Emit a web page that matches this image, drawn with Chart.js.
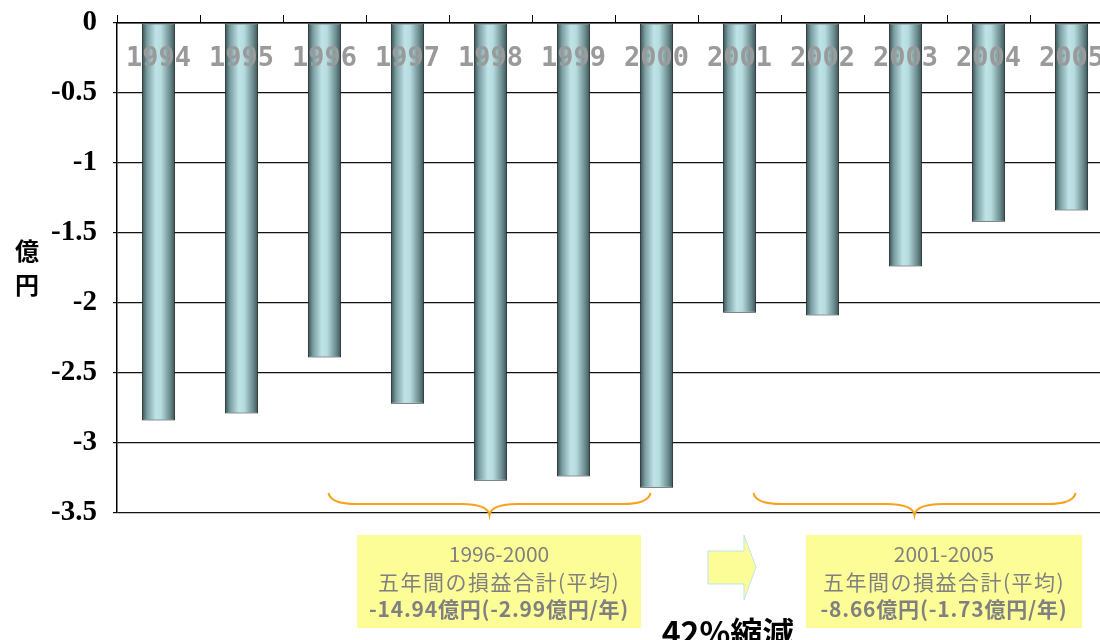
<!DOCTYPE html>
<html>
<head>
<meta charset="utf-8">
<script src="https://cdn.jsdelivr.net/npm/chart.js@4/dist/chart.umd.min.js"></script>
<style>
  html, body { margin: 0; padding: 0; background: #fff; overflow: hidden; }
  #wrap { position: relative; width: 1113px; height: 640px; }
</style>
</head>
<body>
<div id="wrap"><canvas id="myChart"></canvas></div>
<script>
// 年度別の損益 (億円)
const years = ['1994', '1995', '1996', '1997', '1998', '1999', '2000', '2001', '2002', '2003', '2004', '2005'];
const profit = [-2.84, -2.79, -2.39, -2.72, -3.27, -3.24, -3.32, -2.07, -2.09, -1.74, -1.42, -1.34];
const yTicks = [0, -0.5, -1, -1.5, -2, -2.5, -3, -3.5];
// 比較する二つの期間 (years の添字)
const periodA = [2, 6];
const periodB = [7, 11];

const sum = (a, b) => profit.slice(a, b + 1).reduce((s, v) => s + v, 0);
const sumA = sum(periodA[0], periodA[1]);
const sumB = sum(periodB[0], periodB[1]);
const cut = Math.round((1 - sumB / sumA) * 100);

function boxLines(p, total) {
  const n = p[1] - p[0] + 1;
  return [
    years[p[0]] + '-' + years[p[1]],
    '五年間の損益合計(平均)',
    total.toFixed(2) + '億円(' + (total / n).toFixed(2) + '億円/年)'
  ];
}

function barGradient(c) {
  const chart = c.chart;
  const x = chart.scales.x;
  if (!x || c.dataIndex == null) return '#a8cfd2';
  const cx = x.getPixelForValue(c.dataIndex);
  const w = x.width / years.length * 0.4;
  if (!isFinite(cx) || !isFinite(w) || w <= 0) return '#a8cfd2';
  const g = chart.ctx.createLinearGradient(cx - w / 2, 0, cx + w / 2, 0);
  g.addColorStop(0, '#364d4f');
  g.addColorStop(0.15, '#789c9f');
  g.addColorStop(0.42, '#bfe3e6');
  g.addColorStop(0.58, '#b6dcdf');
  g.addColorStop(0.85, '#6b8b8e');
  g.addColorStop(1, '#3a5254');
  return g;
}

function brace(ctx, x1, x2, yTop, yMid, yTip) {
  const xm = (x1 + x2) / 2;
  const r = 14;
  ctx.beginPath();
  ctx.moveTo(x1, yTop);
  ctx.quadraticCurveTo(x1 + 2, yMid, x1 + r * 2, yMid);
  ctx.lineTo(xm - r * 2, yMid);
  ctx.quadraticCurveTo(xm - 2, yMid, xm, yTip);
  ctx.quadraticCurveTo(xm + 2, yMid, xm + r * 2, yMid);
  ctx.lineTo(x2 - r * 2, yMid);
  ctx.quadraticCurveTo(x2 - 2, yMid, x2, yTop);
  ctx.stroke();
}

function textBox(ctx, cx, top, w, h, lines) {
  ctx.fillStyle = '#fdfd98';
  ctx.fillRect(cx - w / 2, top, w, h);
  ctx.fillStyle = '#808080';
  ctx.textAlign = 'center';
  ctx.textBaseline = 'middle';
  ctx.font = '21px "Noto Sans CJK JP", sans-serif';
  ctx.letterSpacing = '0px';
  ctx.fillText(lines[0], cx, top + 19);
  ctx.letterSpacing = '1.5px';
  ctx.fillText(lines[1], cx, top + 47);
  ctx.font = 'bold 21px "Noto Sans CJK JP", sans-serif';
  ctx.letterSpacing = '0.8px';
  ctx.fillText(lines[2], cx, top + 74);
  ctx.letterSpacing = '0px';
}

const overlay = {
  id: 'overlay',
  afterDatasetsDraw(chart) {
    const ctx = chart.ctx;
    const x = chart.scales.x;
    const area = chart.chartArea;
    ctx.save();
    // 年度ラベル (棒の上に重ねる)
    ctx.font = 'bold 27px "DejaVu Sans Mono", monospace';
    ctx.fillStyle = '#9a9a9a';
    ctx.textAlign = 'center';
    ctx.textBaseline = 'middle';
    years.forEach((y, i) => ctx.fillText(y, x.getPixelForValue(i), area.top + 36));
    ctx.restore();
  },
  afterDraw(chart) {
    const ctx = chart.ctx;
    const x = chart.scales.x;
    const area = chart.chartArea;
    ctx.save();

    // 縦書きの単位
    ctx.font = 'bold 24px "Noto Sans CJK JP", sans-serif';
    ctx.fillStyle = '#000';
    ctx.textAlign = 'center';
    ctx.textBaseline = 'middle';
    ctx.fillText('億', 27, 251);
    ctx.fillText('円', 27, 285);

    // 期間を示す中括弧
    ctx.strokeStyle = '#f7a21d';
    ctx.lineWidth = 2;
    const ax1 = x.getPixelForValue(periodA[0]) + 4, ax2 = x.getPixelForValue(periodA[1]) - 6;
    const bx1 = x.getPixelForValue(periodB[0]) + 14, bx2 = x.getPixelForValue(periodB[1]) + 4;
    brace(ctx, ax1, ax2, area.bottom - 20, area.bottom - 9, area.bottom + 2);
    brace(ctx, bx1, bx2, area.bottom - 20, area.bottom - 9, area.bottom + 2);

    // 集計ボックス
    textBox(ctx, 499, 535, 284, 93, boxLines(periodA, sumA));
    textBox(ctx, 944, 535, 276, 93, boxLines(periodB, sumB));

    // 矢印
    ctx.beginPath();
    ctx.moveTo(708, 551);
    ctx.lineTo(744, 551);
    ctx.lineTo(744, 535);
    ctx.lineTo(756, 567);
    ctx.lineTo(744, 600);
    ctx.lineTo(744, 584);
    ctx.lineTo(708, 584);
    ctx.closePath();
    ctx.fillStyle = '#fdfd98';
    ctx.fill();
    ctx.strokeStyle = '#bfe3ee';
    ctx.lineWidth = 1;
    ctx.stroke();

    ctx.font = 'bold 32px "Noto Sans CJK JP", sans-serif';
    ctx.fillStyle = '#000';
    ctx.textAlign = 'center';
    ctx.textBaseline = 'alphabetic';
    ctx.fillText(cut + '%縮減', 728, 645);
    ctx.restore();
  }
};

const ctx = document.getElementById('myChart');

new Chart(ctx, {
  type: 'bar',
  data: {
    labels: years,
    datasets: [{
      label: '損益',
      data: profit,
      backgroundColor: barGradient,
      borderColor: '#1e2a2b',
      borderWidth: 1,
      borderSkipped: false,
      categoryPercentage: 1,
      barPercentage: 0.4
    }]
  },
  options: {
    responsive: true,
    maintainAspectRatio: false,
    animation: false,
    layout: { padding: { top: 0, right: 0, bottom: 127, left: 0 } },
    plugins: {
      legend: { display: false },
      tooltip: { enabled: false }
    },
    scales: {
      x: {
        position: 'top',
        afterFit(s) { s.height = 23; },
        grid: {
          offset: true,
          drawOnChartArea: false,
          drawTicks: true,
          tickLength: 8,
          color: '#000',
          lineWidth: 1
        },
        border: { color: '#000', width: 1.5 },
        ticks: { display: false }
      },
      y: {
        min: -3.5,
        max: 0,
        afterFit(s) {
          s.width = 117;
          s.paddingTop = 0;
          s.paddingBottom = 0;
        },
        afterBuildTicks(s) { s.ticks = yTicks.map(v => ({ value: v })); },
        grid: { color: '#111', lineWidth: 1.2, tickLength: 4 },
        border: { color: '#000', width: 1.5 },
        ticks: {
          padding: 16,
          color: '#000',
          callback: v => String(v),
          font: { family: '"Liberation Serif", serif', weight: 'bold', size: 29 }
        }
      }
    }
  },
  plugins: [overlay]
});
</script>
</body>
</html>
